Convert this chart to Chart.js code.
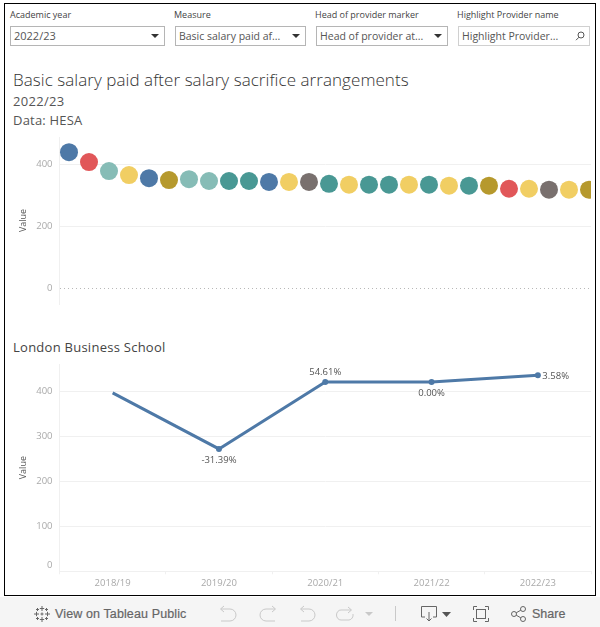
<!DOCTYPE html>
<html>
<head>
<meta charset="utf-8">
<script src="https://cdn.jsdelivr.net/npm/chart.js@4"></script>
<style>
html,body{margin:0;padding:0;width:600px;height:627px;background:#fff;overflow:hidden;font-family:"Open Sans",sans-serif}
.abs{position:absolute;white-space:nowrap}
#frame{left:4px;top:3px;position:absolute;width:590px;height:591px;border:1.5px solid #000;box-sizing:content-box}
.lab{font-size:9px;color:#444;top:9px;line-height:12px}
.box{box-sizing:border-box;height:20px;top:26px;border:1px solid #b5b5b5;background:#fff;font-size:10.5px;color:#555;line-height:18px;padding-left:3px}
.box i{position:absolute;right:5px;top:7px;width:0;height:0;border-left:4px solid transparent;border-right:4px solid transparent;border-top:4px solid #333}
canvas{position:absolute;display:block}
#bar{left:0;top:597px;width:600px;height:30px;background:#f5f5f5;position:absolute}
.tb{font-family:"Liberation Sans",Arial,sans-serif;font-size:12.5px;color:#666;-webkit-text-stroke:.2px #666;top:607px;line-height:14px}
</style>
</head>
<body>
<div id="bar"></div>
<div id="frame"></div>
<div class="abs lab" style="left:10px">Academic year</div>
<div class="abs lab" style="left:174px">Measure</div>
<div class="abs lab" style="left:315px">Head of provider marker</div>
<div class="abs lab" style="left:457px">Highlight Provider name</div>
<div class="abs box" style="left:10px;width:155px;font-size:11px">2022/23<i></i></div>
<div class="abs box" style="left:175px;width:131px">Basic salary paid af...<i></i></div>
<div class="abs box" style="left:316px;width:132px">Head of provider at...<i></i></div>
<div class="abs box" style="left:458px;width:132px;border-color:#d0d0d0">Highlight Provider...
<svg style="position:absolute;right:4px;top:4px" width="10" height="10" viewBox="0 0 10 10" fill="none" stroke="#555"><circle cx="6" cy="4" r="3"/><path d="M4 6.2L1 9.2"/></svg></div>
<div class="abs" style="left:13px;top:68px;font-size:17px;font-weight:300;letter-spacing:.06px;color:#333;line-height:23px">Basic salary paid after salary sacrifice arrangements</div>
<div class="abs" style="left:13px;top:92px;font-size:13px;letter-spacing:.3px;color:#555;line-height:18px">2022/23</div>
<div class="abs" style="left:13px;top:111px;font-size:13px;letter-spacing:.2px;color:#555;line-height:18px">Data: HESA</div>
<div class="abs" style="left:13px;top:338px;font-size:13px;letter-spacing:.26px;color:#444;line-height:18px">London Business School</div>
<canvas id="c1" width="590" height="180" style="left:5px;top:130px"></canvas>
<canvas id="c2" width="590" height="240" style="left:5px;top:355px"></canvas>

<svg class="abs" style="left:33px;top:605px" width="18" height="18" viewBox="0 0 18 18" stroke="#666" stroke-width="1" fill="none"><path d="M9 1v5M6.8 3.5h4.4M9 12v5M6.8 14.5h4.4M1 9h5M3.5 6.8v4.4M12 9h5M14.5 6.8v4.4M4.5 3v3M3 4.5h3M13.5 3v3M12 4.5h3M4.5 12v3M3 13.5h3M13.5 12v3M12 13.5h3M9 7.5v3M7.5 9h3"/></svg>
<div class="abs tb" style="left:55px;letter-spacing:.12px">View on Tableau Public</div>
<svg class="abs" style="left:215px;top:604px" width="160" height="20" viewBox="0 0 160 20" fill="none" stroke="#c9c9c9" stroke-width="1"><path d="M6 5h9a6 6 0 0 1 0 12H6M9 2L5.500 5 9 8"/><path d="M60 5h-9a6 6 0 0 0 0 12h9M57 2l3.500 3-3.500 3"/><path d="M86 5h8a6 6 0 0 1 0 12h-8M89 2l-3.500 3 3.500 3"/><path d="M136 6h-10a4.500 5 0 0 0 0 10h8a4.500 5 0 0 0 4-6M133 3l3.500 3-3.500 3"/><path d="M150 8h8l-4 4z" fill="#c9c9c9" stroke="none"/></svg>
<div class="abs" style="left:395px;top:606px;width:1px;height:15px;background:#c9c9c9"></div>
<svg class="abs" style="left:420px;top:604px" width="32" height="20" viewBox="0 0 32 20" fill="none" stroke="#666"><path d="M5 13H1.500V2.500h15V13H13M9 8v9M6.500 14.500L9 17l2.500-2.500"/><path d="M22 8h9l-4.500 5z" fill="#555" stroke="none"/></svg>
<svg class="abs" style="left:472px;top:605px" width="18" height="18" viewBox="0 0 18 18" fill="none" stroke="#666"><rect x="4.500" y="4.500" width="9" height="9"/><path d="M1.500 5V1.500H5M13 1.500h3.500V5M1.500 13v3.500H5M13 16.500h3.500V13"/></svg>
<svg class="abs" style="left:510px;top:605px" width="18" height="18" viewBox="0 0 18 18" fill="none" stroke="#666"><circle cx="4" cy="9" r="2.500"/><circle cx="13" cy="4" r="2.500"/><circle cx="13" cy="14" r="2.500"/><path d="M6.200 7.800L10.800 5.200M6.200 10.200L10.800 12.800"/></svg>
<div class="abs tb" style="left:532px">Share</div>

<script>
const providerValues = [440,408,379,366,356,350,353,347,347,347,344,344,344,338,335,335,335,335,335,332,332,332,322,322,319,319,319];
const providerColors = ["#4e79a7","#e15759","#86bcb6","#f1ce63","#4e79a7","#b6992d","#86bcb6","#86bcb6","#499894","#499894","#4e79a7","#f1ce63","#79706e","#499894","#f1ce63","#499894","#499894","#f1ce63","#499894","#f1ce63","#499894","#b6992d","#e15759","#f1ce63","#79706e","#f1ce63","#b6992d"];
const years = ["2018/19","2019/20","2020/21","2021/22","2022/23"];
const schoolValues = [396.5,272,420.5,420.5,435.5];
const changeLabels = ["","-31.39%","54.61%","0.00%","3.58%"];

const FONT = '"Open Sans",sans-serif';
const GRID = "#f0f0f0", TICK = "#a9a9a9", TXT = "#555";
const yBase = {
  position:"left",
  afterFit(s){ s.width = 54.5; s.paddingTop = 0; s.paddingBottom = 0; },
  border:{color:GRID},
  ticks:{includeBounds:false,color:TICK,padding:7,font:{family:FONT,size:9.5}},
  title:{display:true,text:"Value",color:TXT,font:{family:FONT,size:9},padding:{top:13,bottom:0}}
};

new Chart(document.getElementById("c1"),{
  type:"scatter",
  data:{datasets:[{
    data:providerValues.map((v,i)=>({x:i,y:v})),
    backgroundColor:providerColors,
    borderColor:providerColors,
    borderWidth:0,pointRadius:9,pointHoverRadius:9,clip:0
  }]},
  options:{
    responsive:false,animation:false,
    layout:{autoPadding:false,padding:{top:7,bottom:6,right:4,left:0}},
    plugins:{legend:{display:false},tooltip:{enabled:false}},
    scales:{
      x:{type:"linear",display:false,min:-0.475,max:26.1},
      y:{...yBase,min:-50,max:489,
        ticks:{...yBase.ticks,stepSize:200},
        border:{color:GRID,dash:c=>c.tick&&c.tick.value===0?[1,3]:[]},
        grid:{color:c=>c.tick&&c.tick.value===0?"#b8b8b8":GRID,drawTicks:false,tickLength:0}
      }
    }
  }
});

const changeLabelPlugin = {
  id:"changeLabels",
  afterDatasetsDraw(chart){
    const c = chart.ctx, pts = chart.getDatasetMeta(0).data;
    const place = [null,[0,11.500,"center"],[0,-10,"center"],[0,11,"center"],[4.500,0.500,"left"]];
    c.save();
    c.font = "9.5px "+FONT; c.fillStyle = TXT; c.textBaseline = "middle";
    changeLabels.forEach((t,i)=>{
      if(!t) return;
      const p = place[i];
      c.textAlign = p[2];
      c.fillText(t,pts[i].x+p[0],pts[i].y+p[1]);
    });
    c.restore();
  }
};

new Chart(document.getElementById("c2"),{
  type:"line",
  data:{labels:years,datasets:[{
    data:schoolValues,
    borderColor:"#4e79a7",backgroundColor:"#4e79a7",borderWidth:3,
    pointBorderWidth:0,pointRadius:c=>c.dataIndex===0?0:3,pointHoverRadius:3,tension:0
  }]},
  options:{
    responsive:false,animation:false,
    layout:{autoPadding:false,padding:{top:9,bottom:0,right:4,left:0}},
    plugins:{legend:{display:false},tooltip:{enabled:false}},
    scales:{
      x:{
        offset:true,
        afterFit(s){ s.height = 23.7; },
        border:{color:GRID},
        grid:{offset:true,drawOnChartArea:false,color:GRID,tickLength:3},
        ticks:{color:TICK,padding:3,maxRotation:0,font:{family:FONT,size:9.5}}
      },
      y:{...yBase,min:0,max:460.7,
        ticks:{...yBase.ticks,stepSize:100,callback:v=>v===0?["0",""]:String(v)},
        grid:{color:GRID,drawTicks:false,tickLength:0}
      }
    }
  },
  plugins:[changeLabelPlugin]
});
</script>
</body>
</html>
